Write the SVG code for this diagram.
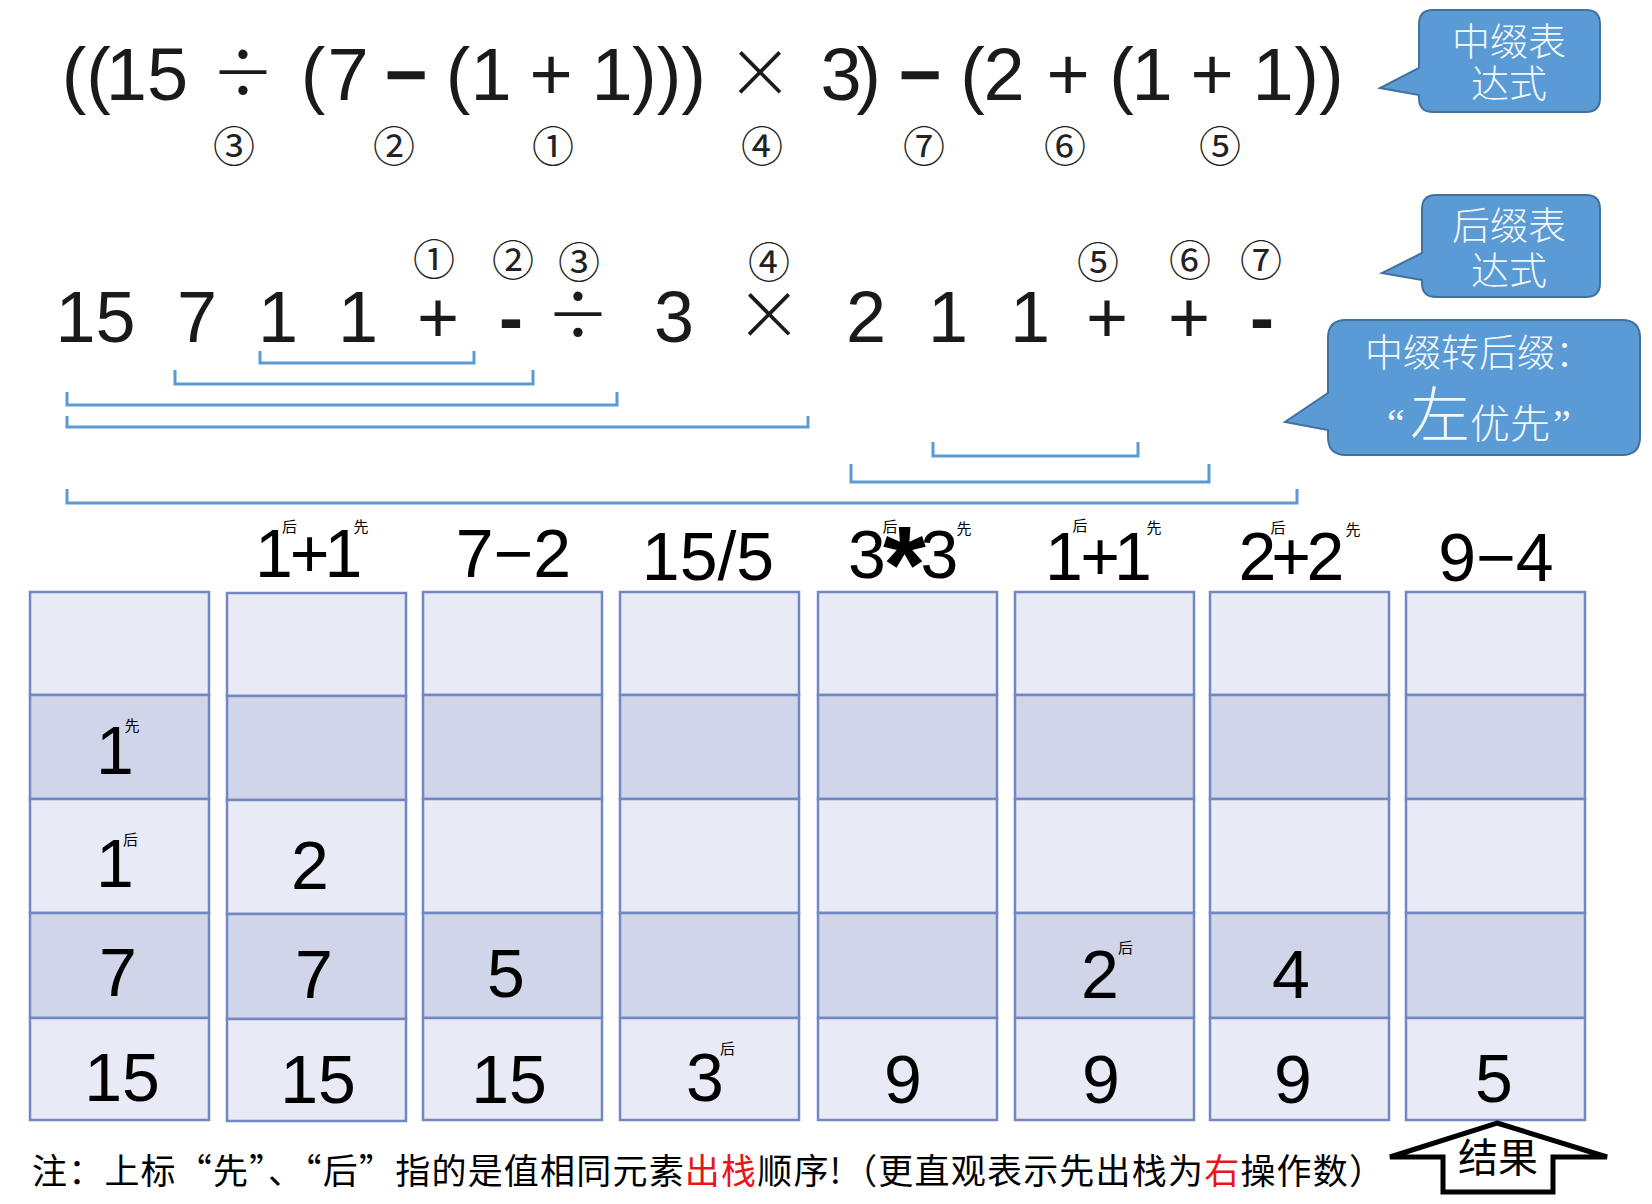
<svg xmlns="http://www.w3.org/2000/svg" width="1652" height="1204" viewBox="0 0 1652 1204">
<style>
.ex{font-family:"Liberation Sans",Arial,sans-serif;fill:#1a1a1a;text-anchor:middle}
.t{font-size:74px}
.p{font-size:72px}
.b{font-weight:bold}
.op{font-family:Lato,"Liberation Sans",sans-serif;font-weight:300;font-size:100px;fill:#1a1a1a;text-anchor:middle}
.cn{font-family:"DejaVu Serif","Noto Sans CJK SC",serif;font-size:42px;fill:#222;text-anchor:middle;dominant-baseline:central}
.br{fill:none;stroke:#5B9BD5;stroke-width:3}
.bub{fill:#5B9BD5;stroke:#41719C;stroke-width:2}
.bt{font-family:"Noto Sans CJK SC","Noto Sans CJK JP",sans-serif;font-size:38px;fill:#F3F7FC;font-weight:300}
.lc{fill:#E8EAF6;stroke:#7288C2;stroke-width:2.5}
.dc{fill:#D0D5E9;stroke:#7288C2;stroke-width:2.5}
.n{font-family:"Liberation Sans",Arial,sans-serif;font-size:68px;fill:#000;text-anchor:middle}
.s{font-family:"Noto Sans CJK SC",sans-serif;font-size:15px;fill:#000;text-anchor:middle}
.note{font-family:"Noto Sans CJK SC","Noto Sans CJK JP",sans-serif;font-size:35px;fill:#000}
.red{fill:#E8161B}
</style>

<g id="infix">
<text class="ex t" x="74" y="100">(</text>
<text class="ex t" x="98.6" y="100">(</text>
<text class="ex t" x="147" y="100">15</text>
<text class="op" x="243" y="106">÷</text>
<text class="ex t" x="313" y="100">(</text>
<text class="ex t" x="348" y="100">7</text>
<text class="ex t b" x="406" y="100">−</text>
<text class="ex t" x="458" y="100">(</text>
<text class="ex t" x="491" y="100">1</text>
<text class="ex t" x="551" y="100">+</text>
<text class="ex t" x="612" y="100">1</text>
<text class="ex t" x="669" y="100">)))</text>
<text class="op" x="760" y="106">×</text>
<text class="ex t" x="841" y="100">3</text>
<text class="ex t" x="868.5" y="100">)</text>
<text class="ex t b" x="920" y="100">−</text>
<text class="ex t" x="972.5" y="100">(</text>
<text class="ex t" x="1004" y="100">2</text>
<text class="ex t" x="1068" y="100">+</text>
<text class="ex t" x="1121.5" y="100">(</text>
<text class="ex t" x="1152" y="100">1</text>
<text class="ex t" x="1212" y="100">+</text>
<text class="ex t" x="1273" y="100">1</text>
<text class="ex t" x="1319" y="100">))</text>
</g>

<g id="infix-order">
<text class="cn" x="234" y="147">③</text>
<text class="cn" x="394" y="147">②</text>
<text class="cn" x="553" y="147">①</text>
<text class="cn" x="762" y="147">④</text>
<text class="cn" x="924" y="147">⑦</text>
<text class="cn" x="1065" y="147">⑥</text>
<text class="cn" x="1220" y="147">⑤</text>
</g>

<g id="postfix">
<text class="ex p" x="95.5" y="342">15</text>
<text class="ex p" x="197" y="342">7</text>
<text class="ex p" x="278" y="342">1</text>
<text class="ex p" x="358" y="342">1</text>
<text class="ex p" x="438" y="342">+</text>
<text class="ex p b" x="511" y="342">-</text>
<text class="op" x="578" y="348">÷</text>
<text class="ex p" x="674" y="342">3</text>
<text class="op" x="769" y="348">×</text>
<text class="ex p" x="866" y="342">2</text>
<text class="ex p" x="948" y="342">1</text>
<text class="ex p" x="1030" y="342">1</text>
<text class="ex p" x="1107" y="342">+</text>
<text class="ex p" x="1189" y="342">+</text>
<text class="ex p b" x="1262" y="342">-</text>
</g>

<g id="postfix-order">
<text class="cn" x="434" y="260">①</text>
<text class="cn" x="513" y="261">②</text>
<text class="cn" x="579" y="263">③</text>
<text class="cn" x="769" y="263">④</text>
<text class="cn" x="1098" y="263">⑤</text>
<text class="cn" x="1190" y="261">⑥</text>
<text class="cn" x="1261" y="261">⑦</text>
</g>

<g id="connectors">
<path class="br" d="M260 351V363H474V351"/>
<path class="br" d="M175 370V384H533V370"/>
<path class="br" d="M67 392V405H617V392"/>
<path class="br" d="M67 416V427H808V416"/>
<path class="br" d="M933 442V456H1138V442"/>
<path class="br" d="M851 464V482H1209V464"/>
<path class="br" d="M67 489V503H1297V489"/>
</g>

<g id="bubble-infix">
<path class="bub" d="M1433 10H1586Q1600 10 1600 24V98Q1600 112 1586 112H1433Q1419 112 1419 98V95L1380 88L1419 68V24Q1419 10 1433 10Z"/>
<text class="bt" x="1509" y="55" text-anchor="middle">中缀表</text>
<text class="bt" x="1509" y="97" text-anchor="middle">达式</text>
</g>

<g id="bubble-postfix">
<path class="bub" d="M1436 195H1586Q1600 195 1600 209V283Q1600 297 1586 297H1436Q1422 297 1422 283V280L1382 273L1422 253V209Q1422 195 1436 195Z"/>
<text class="bt" x="1509" y="239" text-anchor="middle">后缀表</text>
<text class="bt" x="1509" y="284" text-anchor="middle">达式</text>
</g>

<g id="bubble-rule">
<path class="bub" d="M1346 320H1622Q1640 320 1640 338V437Q1640 455 1622 455H1346Q1328 455 1328 437V430L1285 422L1328 393V338Q1328 320 1346 320Z"/>
<text class="bt" x="1365" y="366">中缀转后缀：</text>
<text x="1396" y="437" font-family="Liberation Serif,serif" font-size="40" fill="#F3F7FC" text-anchor="middle">“</text>
<text class="bt" x="1440" y="437" text-anchor="middle" style="font-size:60px">左</text>
<text class="bt" x="1510" y="438" text-anchor="middle" style="font-size:40px">优先</text>
<text x="1562" y="437" font-family="Liberation Serif,serif" font-size="40" fill="#F3F7FC" text-anchor="middle">”</text>
</g>

<g id="stack1">
<rect class="lc" x="30" y="592" width="179" height="103"/>
<rect class="dc" x="30" y="695" width="179" height="104"/>
<rect class="lc" x="30" y="799" width="179" height="114"/>
<rect class="dc" x="30" y="913" width="179" height="105"/>
<rect class="lc" x="30" y="1018" width="179" height="102"/>
<text class="n" x="115" y="774">1</text><text class="s" x="132" y="731">先</text>
<text class="n" x="115" y="887">1</text><text class="s" x="130.5" y="845">后</text>
<text class="n" x="118" y="996">7</text>
<text class="n" x="122" y="1101">15</text>
</g>

<g id="stack2">
<text class="n" x="274" y="577">1</text><text class="s" x="289.5" y="532">后</text>
<text class="n" x="309.5" y="577">+</text>
<text class="n" x="343.5" y="577">1</text><text class="s" x="361" y="532">先</text>
<rect class="lc" x="227" y="593" width="179" height="103"/>
<rect class="dc" x="227" y="696" width="179" height="104"/>
<rect class="lc" x="227" y="800" width="179" height="114"/>
<rect class="dc" x="227" y="914" width="179" height="105"/>
<rect class="lc" x="227" y="1019" width="179" height="102"/>
<text class="n" x="310" y="889">2</text>
<text class="n" x="314" y="998">7</text>
<text class="n" x="318" y="1103">15</text>
</g>

<g id="stack3">
<text class="n" x="513.5" y="577">7−2</text>
<rect class="lc" x="423" y="592" width="179" height="103"/>
<rect class="dc" x="423" y="695" width="179" height="104"/>
<rect class="lc" x="423" y="799" width="179" height="114"/>
<rect class="dc" x="423" y="913" width="179" height="105"/>
<rect class="lc" x="423" y="1018" width="179" height="102"/>
<text class="n" x="506" y="997">5</text>
<text class="n" x="509" y="1103">15</text>
</g>

<g id="stack4">
<text class="n" x="708" y="580">15/5</text>
<rect class="lc" x="620" y="592" width="179" height="103"/>
<rect class="dc" x="620" y="695" width="179" height="104"/>
<rect class="lc" x="620" y="799" width="179" height="114"/>
<rect class="dc" x="620" y="913" width="179" height="105"/>
<rect class="lc" x="620" y="1018" width="179" height="102"/>
<text class="n" x="705" y="1101">3</text><text class="s" x="727.5" y="1054">后</text>
</g>

<g id="stack5">
<text class="n" y="578"><tspan x="867">3</tspan><tspan x="904.5" dy="24" class="b" style="font-size:110px">*</tspan><tspan x="939.5" dy="-24">3</tspan></text>
<text class="s" x="890" y="532">后</text><text class="s" x="964" y="534">先</text>
<rect class="lc" x="818" y="592" width="179" height="103"/>
<rect class="dc" x="818" y="695" width="179" height="104"/>
<rect class="lc" x="818" y="799" width="179" height="114"/>
<rect class="dc" x="818" y="913" width="179" height="105"/>
<rect class="lc" x="818" y="1018" width="179" height="102"/>
<text class="n" x="903" y="1103">9</text>
</g>

<g id="stack6">
<text class="n" x="1064" y="580">1</text><text class="s" x="1080" y="531">后</text>
<text class="n" x="1100" y="580">+</text>
<text class="n" x="1133" y="580">1</text><text class="s" x="1154" y="533">先</text>
<rect class="lc" x="1015" y="592" width="179" height="103"/>
<rect class="dc" x="1015" y="695" width="179" height="104"/>
<rect class="lc" x="1015" y="799" width="179" height="114"/>
<rect class="dc" x="1015" y="913" width="179" height="105"/>
<rect class="lc" x="1015" y="1018" width="179" height="102"/>
<text class="n" x="1100" y="998">2</text><text class="s" x="1125.5" y="953">后</text>
<text class="n" x="1101" y="1103">9</text>
</g>

<g id="stack7">
<text class="n" x="1257.5" y="580">2</text><text class="s" x="1278" y="533">后</text>
<text class="n" x="1291" y="580">+</text>
<text class="n" x="1325.5" y="580">2</text><text class="s" x="1353" y="535">先</text>
<rect class="lc" x="1210" y="592" width="179" height="103"/>
<rect class="dc" x="1210" y="695" width="179" height="104"/>
<rect class="lc" x="1210" y="799" width="179" height="114"/>
<rect class="dc" x="1210" y="913" width="179" height="105"/>
<rect class="lc" x="1210" y="1018" width="179" height="102"/>
<text class="n" x="1291" y="998">4</text>
<text class="n" x="1293" y="1103">9</text>
</g>

<g id="stack8">
<text class="n" x="1496" y="581">9−4</text>
<rect class="lc" x="1406" y="592" width="179" height="103"/>
<rect class="dc" x="1406" y="695" width="179" height="104"/>
<rect class="lc" x="1406" y="799" width="179" height="114"/>
<rect class="dc" x="1406" y="913" width="179" height="105"/>
<rect class="lc" x="1406" y="1018" width="179" height="102"/>
<text class="n" x="1494" y="1102">5</text>
</g>

<g id="result">
<path d="M1497 1123L1607 1157H1553V1192H1443V1157H1390Z" fill="#fff" stroke="#000" stroke-width="5" stroke-linejoin="miter"/>
<text x="1498" y="1172" font-family="Noto Sans CJK SC,sans-serif" font-size="40" fill="#000" text-anchor="middle">结果</text>
</g>

<g id="note">
<text class="note" x="32" y="1184" textLength="1352" lengthAdjust="spacing">注：上标“先”、“后”指的是值相同元素<tspan class="red">出栈</tspan>顺序!（更直观表示先出栈为<tspan class="red">右</tspan>操作数）</text>
</g>
</svg>
